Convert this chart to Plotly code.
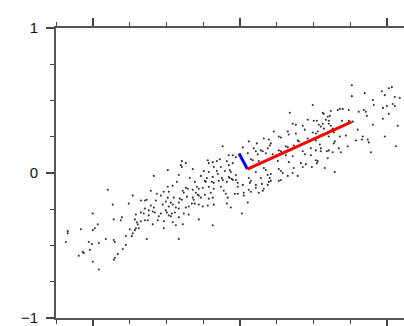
import plotly.graph_objects as go

# Scatter samples (data units)
x_vals = [
    # left tail
    -0.898, -0.728, -0.864, -0.755, -0.673, -0.646, -1.0, -0.802, -0.857, -0.809,
    -0.707, -0.673, -0.653, -0.714, -0.673, -0.646, -0.966, -0.694, -1.081, -1.170,
    -1.170, -0.986, -1.0, -0.748, -0.707, -0.687, -0.728, -0.734, -0.775, -0.911,
    -1.183, -1.027, -1.006, -0.959, -0.850, -0.857, -0.775, -0.796, -1.020, -1.068,
    -1.061, -0.830, -1.095, -0.850, -0.857, -1.0, -0.959, -0.714, -0.700, -0.646,
    -0.633,
    # middle-left
    -0.116, -0.075, -0.048, -0.394, -0.401, -0.394, -0.367, -0.218, -0.211, -0.184,
    -0.156, -0.136, -0.088, -0.177, -0.129, -0.075, -0.048, -0.490, -0.320, -0.245,
    -0.211, -0.156, -0.150, -0.102, -0.068, -0.061, -0.585, -0.415, -0.340, -0.265,
    -0.224, -0.184, -0.122, -0.116, -0.075, -0.068, -0.054, -0.048, -0.428, -0.306,
    -0.238, -0.231, -0.190, -0.177, -0.143, -0.088, -0.490, -0.456, -0.367, -0.354,
    -0.320, -0.292, -0.279, -0.252, -0.211, -0.177, -0.129, -0.605, -0.564, -0.517,
    -0.483, -0.388, -0.381, -0.299, -0.286, -0.279, -0.238, -0.197, -0.109, -0.095,
    -0.537, -0.490, -0.449, -0.408, -0.394, -0.360, -0.320, -0.313, -0.265, -0.211,
    -0.184, -0.082, -0.633, -0.571, -0.503, -0.469, -0.456, -0.415, -0.326, -0.306,
    -0.279, -0.252, -0.218, -0.177, -0.088, -0.605, -0.585, -0.524, -0.483, -0.435,
    -0.415, -0.367, -0.347, -0.619, -0.592, -0.578, -0.537, -0.503, -0.496, -0.462,
    -0.442, -0.381, -0.347, -0.619, -0.551, -0.483, -0.469, -0.415, -0.626, -0.558,
    -0.517, -0.456, -0.592, -0.388, -0.435, -0.517, -0.184, -0.279, -0.415, -0.061,
    -0.034,
    # middle-right
    0.496, 0.340, 0.462, 0.503, 0.524, 0.571, 0.360, 0.381, 0.428, 0.537,
    0.231, 0.326, 0.333, 0.381, 0.442, 0.496, 0.517, 0.163, 0.197, 0.265,
    0.279, 0.394, 0.401, 0.462, 0.517, 0.061, 0.116, 0.211, 0.204, 0.313,
    0.326, 0.367, 0.483, 0.020, 0.095, 0.143, 0.156, 0.190, 0.265, 0.279,
    0.428, 0.442, 0.517, 0.551, 0.054, 0.109, 0.122, 0.177, 0.224, 0.313,
    0.360, 0.483, 0.517, -0.027, 0.075, 0.088, 0.129, 0.197, 0.258, 0.333,
    0.415, 0.449, 0.490, 0.095, 0.163, 0.177, 0.265, 0.279, 0.367, 0.109,
    0.211, 0.292, 0.394, -0.027, 0.061, 0.075, 0.143, 0.197, 0.265, 0.109,
    0.190, 0.020, -0.014, 0.061, 0.129, 0.027, 0.054, 0.068, 0.150, 0.190,
    0.204, 0.211, 0.279, 0.109, 0.156, 0.075, 0.027, -0.014, 0.014, 0.326,
    0.360, -0.027, -0.014, 0.163, 0.428, 0.578, 0.646, 0.524,
    # right
    0.762, 0.762, 0.850, 0.966, 1.013, 1.034, 0.986, 1.054, 0.905, 0.911,
    1.040, 1.054, 1.0, 0.973, 0.666, 0.680, 0.700, 0.741, 0.809, 0.843,
    0.857, 0.619, 0.564, 0.864, 1.013, 0.973, 0.598, 0.585, 0.612, 0.605,
    0.694, 0.741, 0.768, 0.564, 0.605, 0.619, 0.551, 0.571, 0.632, 0.619,
    0.905, 1.074, 0.802, 0.530, 0.598, 0.605, 0.639, 0.680, 0.721, 0.986,
    0.836, 0.830, 0.789, 0.870, 0.877, 0.646, 0.639, 0.544, 0.734, 0.673,
    1.061, 0.605, 0.592, 0.551, 0.632, 0.687, 0.891, 0.530, 0.598, 1.088,
]
y_vals = [
    # left tail
    -0.116, -0.156, -0.218, -0.211, -0.190, -0.190, -0.279, -0.306, -0.320, -0.326,
    -0.286, -0.272, -0.279, -0.320, -0.333, -0.326, -0.354, -0.354, -0.388, -0.401,
    -0.415, -0.381, -0.394, -0.388, -0.381, -0.381, -0.415, -0.435, -0.435, -0.456,
    -0.476, -0.476, -0.490, -0.483, -0.476, -0.462, -0.496, -0.524, -0.530, -0.544,
    -0.551, -0.558, -0.571, -0.585, -0.598, -0.612, -0.666, -0.394, -0.340, -0.245,
    -0.456,
    # middle-left
    0.184, 0.122, 0.122, 0.082, 0.054, 0.041, 0.068, 0.088, 0.068, 0.075,
    0.082, 0.095, 0.082, 0.041, 0.041, 0.054, 0.068, 0.020, 0.027, 0.014,
    0.007, 0.014, -0.007, 0.014, 0.020, 0.007, -0.020, -0.014, -0.034, -0.020,
    -0.034, -0.027, -0.034, -0.048, -0.027, -0.034, -0.041, -0.048, -0.061, -0.061,
    -0.054, -0.061, -0.061, -0.068, -0.054, -0.061, -0.095, -0.088, -0.102, -0.109,
    -0.116, -0.095, -0.109, -0.102, -0.095, -0.109, -0.095, -0.122, -0.143, -0.129,
    -0.129, -0.122, -0.136, -0.136, -0.150, -0.156, -0.150, -0.136, -0.122, -0.143,
    -0.156, -0.170, -0.170, -0.177, -0.184, -0.163, -0.170, -0.184, -0.170, -0.177,
    -0.170, -0.170, -0.184, -0.190, -0.197, -0.204, -0.218, -0.204, -0.211, -0.211,
    -0.218, -0.231, -0.224, -0.218, -0.211, -0.224, -0.238, -0.218, -0.231, -0.238,
    -0.245, -0.238, -0.231, -0.258, -0.265, -0.272, -0.279, -0.258, -0.272, -0.279,
    -0.272, -0.279, -0.286, -0.292, -0.299, -0.292, -0.299, -0.306, -0.326, -0.326,
    -0.333, -0.340, -0.354, -0.354, -0.360, -0.381, -0.360, -0.320, -0.456, -0.238,
    -0.143,
    # middle-right
    0.469, 0.415, 0.367, 0.360, 0.360, 0.408, 0.340, 0.333, 0.326, 0.333,
    0.286, 0.286, 0.265, 0.272, 0.299, 0.279, 0.272, 0.238, 0.231, 0.252,
    0.245, 0.224, 0.218, 0.238, 0.224, 0.218, 0.204, 0.204, 0.190, 0.184,
    0.177, 0.190, 0.170, 0.177, 0.170, 0.156, 0.150, 0.170, 0.156, 0.150,
    0.150, 0.129, 0.156, 0.150, 0.136, 0.150, 0.129, 0.136, 0.129, 0.122,
    0.116, 0.122, 0.088, 0.109, 0.095, 0.088, 0.082, 0.095, 0.082, 0.075,
    0.068, 0.061, 0.041, 0.048, 0.034, 0.020, 0.027, 0.014, 0.034, 0.007,
    -0.007, 0.0, -0.020, -0.014, -0.034, -0.054, -0.034, -0.061, -0.054, -0.082,
    -0.082, -0.082, -0.095, -0.116, -0.136, -0.156, -0.204, -0.068, -0.075, -0.014,
    -0.034, -0.054, -0.048, -0.102, -0.122, -0.129, -0.136, -0.143, -0.279, -0.020,
    0.0, -0.048, -0.068, -0.109, 0.041, 0.034, 0.007, 0.068,
    # right
    0.605, 0.530, 0.551, 0.564, 0.585, 0.592, 0.537, 0.524, 0.503, 0.469,
    0.476, 0.462, 0.462, 0.449, 0.435, 0.442, 0.442, 0.435, 0.422, 0.435,
    0.422, 0.428, 0.415, 0.394, 0.408, 0.374, 0.388, 0.367, 0.394, 0.360,
    0.360, 0.360, 0.354, 0.340, 0.340, 0.326, 0.320, 0.306, 0.306, 0.292,
    0.333, 0.326, 0.299, 0.286, 0.272, 0.252, 0.279, 0.252, 0.258, 0.252,
    0.252, 0.231, 0.224, 0.231, 0.211, 0.218, 0.204, 0.197, 0.184, 0.170,
    0.184, 0.156, 0.150, 0.170, 0.143, 0.143, 0.143, 0.082, 0.102, 0.517,
]

# Principal axes (data units)
center = [0.052, 0.027]
pc1_end = [0.760, 0.352]
pc2_end = [-0.005, 0.134]

y_ticks = [-1, 0, 1]
y_labels = ["\u22121", "0", "1"]
x_ticks = [-1, 0, 1]

fig = go.Figure()
fig.add_trace(go.Scatter(
    x=x_vals, y=y_vals, mode="markers",
    marker=dict(size=2.1, color="#333333", line=dict(width=0)),
    hoverinfo="skip", showlegend=False))
fig.add_trace(go.Scatter(
    x=[center[0], pc2_end[0]], y=[center[1], pc2_end[1]], mode="lines",
    line=dict(color="#0000ff", width=3), showlegend=False))
fig.add_trace(go.Scatter(
    x=[center[0], pc1_end[0]], y=[center[1], pc1_end[1]], mode="lines",
    line=dict(color="#ff0000", width=3), showlegend=False))

axis_color = "#555555"
tick_color = "#444444"
fig.update_layout(
    width=404, height=326,
    margin=dict(l=56, r=0, t=28, b=4),
    paper_bgcolor="white", plot_bgcolor="white",
    font=dict(family="Liberation Sans, Arial, sans-serif", size=15, color="#111"),
    xaxis=dict(
        range=[-1.25, 1.1166], tickvals=x_ticks, showticklabels=False,
        ticks="outside", ticklen=8, tickwidth=1.5, tickcolor=tick_color,
        showline=True, linecolor=axis_color, linewidth=2, mirror="ticks",
        showgrid=False, zeroline=False,
        minor=dict(dtick=0.25, tick0=0, ticks="outside", ticklen=4,
                   tickwidth=1.2, tickcolor=tick_color, showgrid=False),
    ),
    yaxis=dict(
        range=[-1, 1], tickvals=y_ticks, ticktext=y_labels,
        ticks="outside", ticklen=8, tickwidth=1.5, tickcolor=tick_color,
        ticklabelstandoff=5, ticklabeloverflow="allow",
        showline=True, linecolor=axis_color, linewidth=2, mirror=False,
        showgrid=False, zeroline=False,
        minor=dict(dtick=0.25, tick0=0, ticks="outside", ticklen=4,
                   tickwidth=1.2, tickcolor=tick_color, showgrid=False),
    ),
)

fig.write_html("out.html")
